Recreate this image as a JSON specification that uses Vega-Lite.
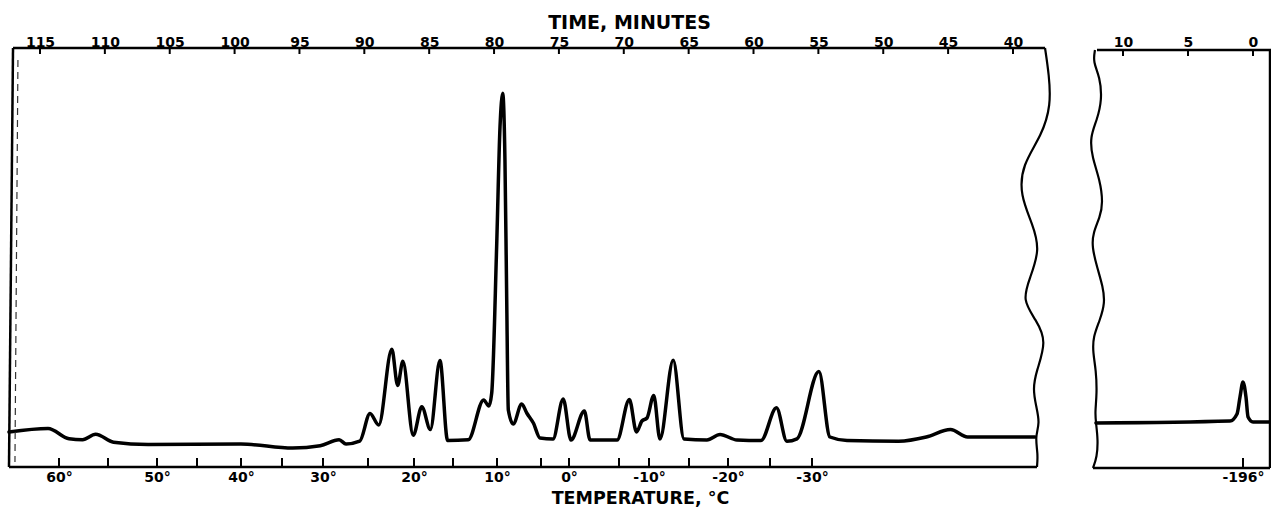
{
  "$schema": "https://vega.github.io/schema/vega-lite/v6.json",
  "width": 1271,
  "height": 508,
  "autosize": {"type": "none"},
  "padding": 0,
  "background": "white",
  "config": {"view": {"stroke": null}, "axis": {"grid": false, "domain": false, "ticks": false, "tickSize": 0}},
  "datasets": {
    "curve": [
      {"minute": 117.39, "signal": 35, "part": "main"},
      {"minute": 114.38, "signal": 38.5, "part": "main"},
      {"minute": 112.76, "signal": 28.2, "part": "main"},
      {"minute": 111.72, "signal": 27.2, "part": "main"},
      {"minute": 110.71, "signal": 32.7, "part": "main"},
      {"minute": 109.33, "signal": 24.8, "part": "main"},
      {"minute": 106.67, "signal": 22.4, "part": "main"},
      {"minute": 99.51, "signal": 23, "part": "main"},
      {"minute": 95.52, "signal": 18.9, "part": "main"},
      {"minute": 93.4, "signal": 21.3, "part": "main"},
      {"minute": 91.94, "signal": 27.2, "part": "main"},
      {"minute": 91.41, "signal": 23, "part": "main"},
      {"minute": 90.35, "signal": 25.8, "part": "main"},
      {"minute": 89.56, "signal": 53.4, "part": "main"},
      {"minute": 88.89, "signal": 42, "part": "main"},
      {"minute": 87.88, "signal": 117.7, "part": "main"},
      {"minute": 87.43, "signal": 81.6, "part": "main"},
      {"minute": 87.03, "signal": 105.7, "part": "main"},
      {"minute": 86.23, "signal": 31.7, "part": "main"},
      {"minute": 85.57, "signal": 60.2, "part": "main"},
      {"minute": 84.91, "signal": 37.5, "part": "main"},
      {"minute": 84.17, "signal": 106.4, "part": "main"},
      {"minute": 83.58, "signal": 26.5, "part": "main"},
      {"minute": 81.99, "signal": 27.2, "part": "main"},
      {"minute": 80.8, "signal": 67.1, "part": "main"},
      {"minute": 80.4, "signal": 60.9, "part": "main"},
      {"minute": 80.18, "signal": 74, "part": "main"},
      {"minute": 79.8, "signal": 220.3, "part": "main"},
      {"minute": 79.54, "signal": 340.3, "part": "main"},
      {"minute": 79.33, "signal": 373.7, "part": "main"},
      {"minute": 79.16, "signal": 307, "part": "main"},
      {"minute": 79.03, "signal": 174, "part": "main"},
      {"minute": 78.9, "signal": 57, "part": "main"},
      {"minute": 78.52, "signal": 43, "part": "main"},
      {"minute": 77.87, "signal": 63, "part": "main"},
      {"minute": 77.48, "signal": 54, "part": "main"},
      {"minute": 76.97, "signal": 44, "part": "main"},
      {"minute": 76.46, "signal": 29, "part": "main"},
      {"minute": 75.46, "signal": 28, "part": "main"},
      {"minute": 74.67, "signal": 68, "part": "main"},
      {"minute": 74.07, "signal": 27, "part": "main"},
      {"minute": 73.04, "signal": 56, "part": "main"},
      {"minute": 72.6, "signal": 27, "part": "main"},
      {"minute": 70.52, "signal": 27, "part": "main"},
      {"minute": 69.57, "signal": 67.5, "part": "main"},
      {"minute": 69.02, "signal": 35, "part": "main"},
      {"minute": 68.6, "signal": 46, "part": "main"},
      {"minute": 68.21, "signal": 49, "part": "main"},
      {"minute": 67.69, "signal": 71.5, "part": "main"},
      {"minute": 67.21, "signal": 28, "part": "main"},
      {"minute": 66.19, "signal": 106.7, "part": "main"},
      {"minute": 65.36, "signal": 28, "part": "main"},
      {"minute": 63.59, "signal": 27, "part": "main"},
      {"minute": 62.58, "signal": 32.5, "part": "main"},
      {"minute": 61.27, "signal": 27, "part": "main"},
      {"minute": 59.42, "signal": 26.5, "part": "main"},
      {"minute": 58.23, "signal": 59.2, "part": "main"},
      {"minute": 57.43, "signal": 25.8, "part": "main"},
      {"minute": 56.65, "signal": 28.2, "part": "main"},
      {"minute": 54.96, "signal": 95.4, "part": "main"},
      {"minute": 54.11, "signal": 30, "part": "main"},
      {"minute": 52.79, "signal": 26.5, "part": "main"},
      {"minute": 48.81, "signal": 25.8, "part": "main"},
      {"minute": 46.68, "signal": 30, "part": "main"},
      {"minute": 44.82, "signal": 37.5, "part": "main"},
      {"minute": 43.5, "signal": 30, "part": "main"},
      {"minute": 38.3, "signal": 30, "part": "main"},
      {"minute": 12.08, "signal": 44, "part": "cold"},
      {"minute": 1.77, "signal": 46, "part": "cold"},
      {"minute": 1.23, "signal": 53, "part": "cold"},
      {"minute": 1.0, "signal": 70, "part": "cold"},
      {"minute": 0.77, "signal": 85, "part": "cold"},
      {"minute": 0.54, "signal": 70, "part": "cold"},
      {"minute": 0.38, "signal": 50, "part": "cold"},
      {"minute": 0, "signal": 45, "part": "cold"},
      {"minute": -1.31, "signal": 45, "part": "cold"}
    ],
    "edges": [
      {"minute": 37.53, "signal": 419, "edge": "right"},
      {"minute": 37.22, "signal": 392, "edge": "right"},
      {"minute": 37.07, "signal": 362, "edge": "right"},
      {"minute": 37.76, "signal": 332, "edge": "right"},
      {"minute": 39.3, "signal": 302, "edge": "right"},
      {"minute": 39.46, "signal": 272, "edge": "right"},
      {"minute": 38.46, "signal": 242, "edge": "right"},
      {"minute": 37.92, "signal": 217, "edge": "right"},
      {"minute": 38.69, "signal": 189, "edge": "right"},
      {"minute": 39.3, "signal": 167, "edge": "right"},
      {"minute": 38.22, "signal": 147, "edge": "right"},
      {"minute": 37.38, "signal": 126, "edge": "right"},
      {"minute": 38.22, "signal": 95, "edge": "right"},
      {"minute": 38.46, "signal": 78, "edge": "right"},
      {"minute": 38.22, "signal": 61, "edge": "right"},
      {"minute": 37.92, "signal": 44, "edge": "right"},
      {"minute": 38.3, "signal": 30, "edge": "right"},
      {"minute": 38.07, "signal": 13, "edge": "right"},
      {"minute": 38.15, "signal": 0, "edge": "right"},
      {"minute": 12.154, "signal": 417, "edge": "left"},
      {"minute": 12.308, "signal": 405, "edge": "left"},
      {"minute": 11.769, "signal": 390, "edge": "left"},
      {"minute": 11.615, "signal": 367, "edge": "left"},
      {"minute": 12.0, "signal": 347, "edge": "left"},
      {"minute": 12.538, "signal": 330, "edge": "left"},
      {"minute": 12.385, "signal": 310, "edge": "left"},
      {"minute": 11.769, "signal": 287, "edge": "left"},
      {"minute": 11.538, "signal": 264, "edge": "left"},
      {"minute": 11.769, "signal": 250, "edge": "left"},
      {"minute": 12.308, "signal": 234, "edge": "left"},
      {"minute": 12.385, "signal": 220, "edge": "left"},
      {"minute": 12.0, "signal": 200, "edge": "left"},
      {"minute": 11.538, "signal": 180, "edge": "left"},
      {"minute": 11.385, "signal": 164, "edge": "left"},
      {"minute": 11.769, "signal": 147, "edge": "left"},
      {"minute": 12.308, "signal": 130, "edge": "left"},
      {"minute": 12.308, "signal": 114, "edge": "left"},
      {"minute": 12.077, "signal": 97, "edge": "left"},
      {"minute": 12.0, "signal": 74, "edge": "left"},
      {"minute": 12.154, "signal": 54, "edge": "left"},
      {"minute": 12.077, "signal": 44, "edge": "left"},
      {"minute": 11.923, "signal": 27, "edge": "left"},
      {"minute": 12.0, "signal": 10, "edge": "left"},
      {"minute": 12.308, "signal": -1, "edge": "left"}
    ],
    "mainMinutes": [
      {"minute": 115}, {"minute": 110}, {"minute": 105}, {"minute": 100}, {"minute": 95}, {"minute": 90}, {"minute": 85}, {"minute": 80},
      {"minute": 75}, {"minute": 70}, {"minute": 65}, {"minute": 60}, {"minute": 55}, {"minute": 50}, {"minute": 45}, {"minute": 40}
    ],
    "coldMinutes": [{"minute": 10}, {"minute": 5}, {"minute": 0}],
    "temps": [
      {"temp": 60}, {"temp": 55}, {"temp": 50}, {"temp": 45}, {"temp": 40}, {"temp": 35}, {"temp": 30}, {"temp": 25}, {"temp": 20}, {"temp": 15},
      {"temp": 10}, {"temp": 5}, {"temp": 0}, {"temp": -5}, {"temp": -10}, {"temp": -15}, {"temp": -20}, {"temp": -25}, {"temp": -30}, {"temp": -196}
    ]
  },
  "layer": [
    {
      "layer": [
        {
          "data": {"name": "curve"},
          "mark": {"type": "line", "interpolate": "monotone", "color": "#000", "strokeWidth": 3.5, "strokeJoin": "round", "strokeCap": "round"},
          "encoding": {
            "x": {"field": "minute", "type": "quantitative",
              "scale": {"domain": [118.083, 36.375, 12.615, -1.385], "range": [0, 1060, 1089, 1271], "nice": false, "zero": false},
              "axis": {"orient": "top", "offset": -48,
                "values": [115, 110, 105, 100, 95, 90, 85, 80, 75, 70, 65, 60, 55, 50, 45, 40, 10, 5, 0],
                "format": "d",
                "title": "TIME, MINUTES", "titleX": 629, "titleY": -20, "titleAlign": "center", "titleBaseline": "alphabetic", "titleAngle": 0,
                "titleFont": "DejaVu Sans", "titleFontSize": 19, "titleFontWeight": "bold", "titleColor": "#000",
                "labelFont": "DejaVu Sans", "labelFontSize": 14, "labelFontWeight": "bold", "labelColor": "#000",
                "labelBaseline": "alphabetic", "labelPadding": 2, "labelOverlap": false, "labelFlush": false, "labelBound": false,
                "ticks": false, "tickSize": 0, "domain": false, "grid": false}},
            "y": {"field": "signal", "type": "quantitative", "scale": {"domain": [0, 419], "range": [467, 48], "nice": false, "zero": false}, "axis": null},
            "detail": {"field": "part"}
          }
        },
        {
          "data": {"name": "edges"},
          "mark": {"type": "line", "interpolate": "basis", "color": "#000", "strokeWidth": 2.2},
          "encoding": {
            "x": {"field": "minute", "type": "quantitative", "scale": {"domain": [118.083, 36.375, 12.615, -1.385], "range": [0, 1060, 1089, 1271], "nice": false, "zero": false}, "title": "TIME, MINUTES"},
            "y": {"field": "signal", "type": "quantitative", "scale": {"domain": [0, 419], "range": [467, 48], "nice": false, "zero": false}, "axis": null},
            "detail": {"field": "edge"},
            "order": {"value": null}
          }
        },
        {
          "data": {"values": [{}]},
          "mark": {"type": "rule", "color": "#000", "strokeWidth": 2.5},
          "encoding": {
            "x": {"datum": 117.08, "type": "quantitative", "scale": {"domain": [118.083, 36.375, 12.615, -1.385], "range": [0, 1060, 1089, 1271], "nice": false, "zero": false}, "title": "TIME, MINUTES"},
            "x2": {"datum": 37.53},
            "y": {"datum": 419, "type": "quantitative", "scale": {"domain": [0, 419], "range": [467, 48], "nice": false, "zero": false}, "axis": null}
          }
        },
        {
          "data": {"values": [{}]},
          "mark": {"type": "rule", "color": "#000", "strokeWidth": 2.5},
          "encoding": {
            "x": {"datum": 117.39, "type": "quantitative", "scale": {"domain": [118.083, 36.375, 12.615, -1.385], "range": [0, 1060, 1089, 1271], "nice": false, "zero": false}, "title": "TIME, MINUTES"},
            "x2": {"datum": 38.15},
            "y": {"datum": 0, "type": "quantitative", "scale": {"domain": [0, 419], "range": [467, 48], "nice": false, "zero": false}, "axis": null}
          }
        },
        {
          "data": {"values": [{}]},
          "mark": {"type": "rule", "color": "#000", "strokeWidth": 2.5},
          "encoding": {
            "x": {"datum": 117.08, "type": "quantitative", "scale": {"domain": [118.083, 36.375, 12.615, -1.385], "range": [0, 1060, 1089, 1271], "nice": false, "zero": false}, "title": "TIME, MINUTES"},
            "x2": {"datum": 117.39},
            "y": {"datum": 419, "type": "quantitative", "scale": {"domain": [0, 419], "range": [467, 48], "nice": false, "zero": false}, "axis": null},
            "y2": {"datum": 0}
          }
        },
        {
          "data": {"values": [{}]},
          "mark": {"type": "rule", "color": "#333", "strokeWidth": 1.2, "strokeDash": [7, 5]},
          "encoding": {
            "x": {"datum": 116.70, "type": "quantitative", "scale": {"domain": [118.083, 36.375, 12.615, -1.385], "range": [0, 1060, 1089, 1271], "nice": false, "zero": false}, "title": "TIME, MINUTES"},
            "x2": {"datum": 116.93},
            "y": {"datum": 407, "type": "quantitative", "scale": {"domain": [0, 419], "range": [467, 48], "nice": false, "zero": false}, "axis": null},
            "y2": {"datum": 5}
          }
        },
        {
          "data": {"values": [{}]},
          "mark": {"type": "rule", "color": "#000", "strokeWidth": 2.5},
          "encoding": {
            "x": {"datum": 12.0, "type": "quantitative", "scale": {"domain": [118.083, 36.375, 12.615, -1.385], "range": [0, 1060, 1089, 1271], "nice": false, "zero": false}, "title": "TIME, MINUTES"},
            "x2": {"datum": -1.385},
            "y": {"datum": 417, "type": "quantitative", "scale": {"domain": [0, 419], "range": [467, 48], "nice": false, "zero": false}, "axis": null}
          }
        },
        {
          "data": {"values": [{}]},
          "mark": {"type": "rule", "color": "#000", "strokeWidth": 2.5},
          "encoding": {
            "x": {"datum": 12.31, "type": "quantitative", "scale": {"domain": [118.083, 36.375, 12.615, -1.385], "range": [0, 1060, 1089, 1271], "nice": false, "zero": false}, "title": "TIME, MINUTES"},
            "x2": {"datum": -1.31},
            "y": {"datum": -1, "type": "quantitative", "scale": {"domain": [0, 419], "range": [467, 48], "nice": false, "zero": false}, "axis": null}
          }
        },
        {
          "data": {"values": [{}]},
          "mark": {"type": "rule", "color": "#000", "strokeWidth": 2.5},
          "encoding": {
            "x": {"datum": -1.31, "type": "quantitative", "scale": {"domain": [118.083, 36.375, 12.615, -1.385], "range": [0, 1060, 1089, 1271], "nice": false, "zero": false}, "title": "TIME, MINUTES"},
            "y": {"datum": 417, "type": "quantitative", "scale": {"domain": [0, 419], "range": [467, 48], "nice": false, "zero": false}, "axis": null},
            "y2": {"datum": -1}
          }
        },
        {
          "data": {"name": "mainMinutes"},
          "mark": {"type": "rule", "color": "#000", "strokeWidth": 2},
          "encoding": {
            "x": {"field": "minute", "type": "quantitative", "scale": {"domain": [118.083, 36.375, 12.615, -1.385], "range": [0, 1060, 1089, 1271], "nice": false, "zero": false}, "title": "TIME, MINUTES"},
            "y": {"datum": 419, "type": "quantitative", "scale": {"domain": [0, 419], "range": [467, 48], "nice": false, "zero": false}, "axis": null},
            "y2": {"datum": 413}
          }
        },
        {
          "data": {"name": "coldMinutes"},
          "mark": {"type": "rule", "color": "#000", "strokeWidth": 2},
          "encoding": {
            "x": {"field": "minute", "type": "quantitative", "scale": {"domain": [118.083, 36.375, 12.615, -1.385], "range": [0, 1060, 1089, 1271], "nice": false, "zero": false}, "title": "TIME, MINUTES"},
            "y": {"datum": 417, "type": "quantitative", "scale": {"domain": [0, 419], "range": [467, 48], "nice": false, "zero": false}, "axis": null},
            "y2": {"datum": 411}
          }
        }
      ]
    },
    {
      "data": {"name": "temps"},
      "mark": {"type": "rule", "color": "#000", "strokeWidth": 2},
      "encoding": {
        "x": {"field": "temp", "type": "quantitative",
          "scale": {"domain": [60, 55, 50, 45, 40, 35, 30, 25, 20, 15, 10, 5, 0, -5, -10, -15, -20, -25, -30, -196],
                    "range": [59, 108, 157, 197, 241, 282, 323, 368, 414, 453, 497, 541, 569, 619, 649, 689, 728, 770, 812, 1243],
                    "nice": false, "zero": false},
          "axis": {"orient": "bottom", "offset": -41,
            "values": [60, 55, 50, 45, 40, 35, 30, 25, 20, 15, 10, 5, 0, -5, -10, -15, -20, -25, -30, -196],
            "labelExpr": "(datum.value % 10 === 0 || datum.value === -196) ? datum.value + '°' : ''",
            "title": "TEMPERATURE, °C", "titleX": 640, "titleY": 36.5, "titleAlign": "center", "titleBaseline": "alphabetic", "titleAngle": 0,
            "titleFont": "DejaVu Sans", "titleFontSize": 17.5, "titleFontWeight": "bold", "titleColor": "#000",
            "labelFont": "DejaVu Sans", "labelFontSize": 14, "labelFontWeight": "bold", "labelColor": "#000",
            "labelBaseline": "top", "labelPadding": 3, "labelOverlap": false, "labelFlush": false, "labelBound": false,
            "ticks": false, "tickSize": 0, "domain": false, "grid": false}},
        "y": {"datum": 9, "type": "quantitative", "scale": {"domain": [0, 419], "range": [467, 48], "nice": false, "zero": false}, "axis": null},
        "y2": {"datum": 0}
      }
    }
  ],
  "resolve": {"scale": {"x": "independent"}, "axis": {"x": "independent"}}
}
